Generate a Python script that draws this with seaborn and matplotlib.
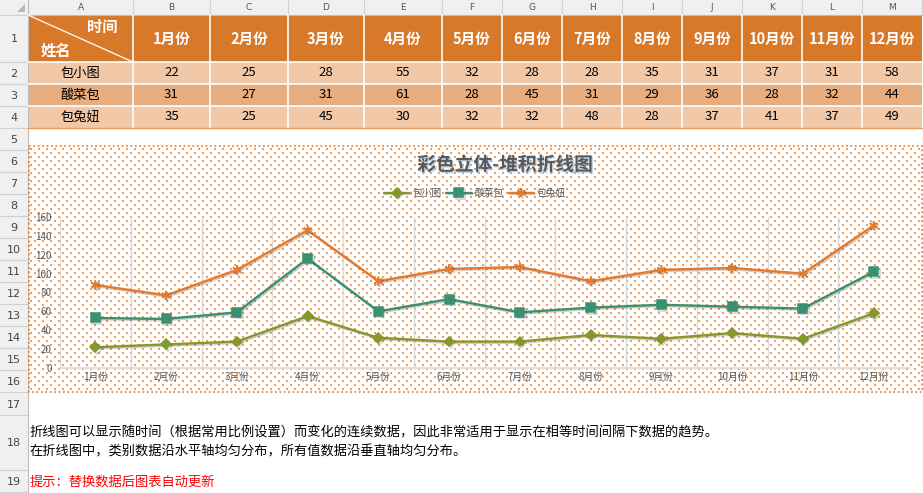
import numpy as np
import pandas as pd
import matplotlib.pyplot as plt
import matplotlib.patheffects as pe
from matplotlib.patches import Rectangle, Polygon
import seaborn as sns

# 数据
months = ['1月份', '2月份', '3月份', '4月份', '5月份', '6月份',
          '7月份', '8月份', '9月份', '10月份', '11月份', '12月份']
names = ['包小图', '酸菜包', '包兔妞']
bao_xiaotu = [22, 25, 28, 55, 32, 28, 28, 35, 31, 37, 31, 58]
suancaibao = [31, 27, 31, 61, 28, 45, 31, 29, 36, 28, 32, 44]
bao_tuniu = [35, 25, 45, 30, 32, 32, 48, 28, 37, 41, 37, 49]
col_letters = list('ABCDEFGHIJKLM')
y_ticks = [0, 20, 40, 60, 80, 100, 120, 140, 160]
chart_title = '彩色立体-堆积折线图'
note_lines = ['折线图可以显示随时间（根据常用比例设置）而变化的连续数据，因此非常适用于显示在相等时间间隔下数据的趋势。',
              '在折线图中，类别数据沿水平轴均匀分布，所有值数据沿垂直轴均匀分布。']
tip_text = '提示：替换数据后图表自动更新'

colors = {'包小图': '#86982B', '酸菜包': '#3A9172', '包兔妞': '#E6792B'}
markers = {'包小图': 'D', '酸菜包': 's', '包兔妞': 'o'}

sns.set_theme(style='white')
plt.rcParams['font.family'] = ['Noto Sans CJK SC', 'DejaVu Sans']

# 表格网格（像素）
col_edges = [28, 133, 210, 288, 364, 442, 502, 562, 622, 682, 742, 802, 862, 922]
row_edges = [15, 62, 84, 106, 128] + [128 + 22 * i for i in range(1, 13)] + [415, 470, 492]

fig = plt.figure(figsize=(9.23, 4.93), dpi=100)
sheet = fig.add_axes([0, 0, 1, 1])
sheet.set_xlim(0, 923)
sheet.set_ylim(493, 0)
sheet.axis('off')

# 列标题 / 行号
sheet.add_patch(Rectangle((0, 0), 923, 15, fc='#F0F0F0', ec='none'))
sheet.add_patch(Rectangle((0, 15), 28, 478, fc='#F0F0F0', ec='none'))
for x in col_edges:
    sheet.plot([x, x], [0, 15], color='#D0D0D0', lw=0.8)
for i, c in enumerate(col_letters):
    sheet.text((col_edges[i] + col_edges[i + 1]) / 2, 8, c, ha='center', va='center',
               fontsize=6.5, color='#555555', family='DejaVu Sans')
sheet.plot([0, 923], [15, 15], color='#BDBDBD', lw=0.8)
for y in row_edges:
    sheet.plot([0, 28], [y, y], color='#D0D0D0', lw=0.8)
for i in range(len(row_edges) - 1):
    sheet.text(14, (row_edges[i] + row_edges[i + 1]) / 2 + 1, str(i + 1), ha='center', va='center',
               fontsize=8, color='#444444', family='DejaVu Sans')
sheet.plot([28, 28], [0, 493], color='#BDBDBD', lw=0.8)
sheet.add_patch(Polygon([(17, 12), (25, 12), (25, 4)], fc='#B8B8B8', ec='none'))

# 数据表
fills = ['#D8792A', '#F1C9A9', '#E8AD7E', '#F1C9A9']
for r in range(4):
    sheet.add_patch(Rectangle((28, row_edges[r]), 894, row_edges[r + 1] - row_edges[r],
                              fc=fills[r], ec='none'))
for x in col_edges[1:-1]:
    sheet.plot([x, x], [15, 128], color='white', lw=1.2)
for y in row_edges[1:4]:
    sheet.plot([28, 922], [y, y], color='white', lw=1.2)
sheet.plot([28, 922], [128, 128], color='#E69A5C', lw=1)
sheet.plot([28, 133], [15, 62], color='white', lw=0.9)
sheet.text(102, 27, '时间', ha='center', va='center', fontsize=11, weight='bold', color='white')
sheet.text(56, 51, '姓名', ha='center', va='center', fontsize=11, weight='bold', color='white')
table = [bao_xiaotu, suancaibao, bao_tuniu]
for j, m in enumerate(months):
    cx = (col_edges[j + 1] + col_edges[j + 2]) / 2
    sheet.text(cx, 39, m, ha='center', va='center', fontsize=10.5, weight='bold', color='white')
    for r in range(3):
        sheet.text(cx, (row_edges[r + 1] + row_edges[r + 2]) / 2, str(table[r][j]),
                   ha='center', va='center', fontsize=9.5, color='black')
for r in range(3):
    sheet.text(80, (row_edges[r + 1] + row_edges[r + 2]) / 2, names[r],
               ha='center', va='center', fontsize=9.5, color='black')

# 图表区：白底 + 橙色点状图案（像素图，2x2 点对齐像素）
cw, ch = 894, 246
pattern = np.ones((ch, cw, 4))
dot = np.array([0.95, 0.62, 0.36, 1.0])
for k, yy in enumerate(range(2, ch - 3, 4)):
    off = 0 if k % 2 == 0 else 4
    for xx in range(2 + off, cw - 3, 8):
        pattern[yy:yy + 2, xx:xx + 2] = dot
sheet.imshow(pattern, extent=(28, 28 + cw, 146 + ch, 146), interpolation='nearest',
             aspect='auto', zorder=1)
sheet.add_patch(Rectangle((28.5, 146), 893, 246, fc='none', ec='#E07A2A', lw=1.2, ls=':', zorder=2))
sheet.set_xlim(0, 923)
sheet.set_ylim(493, 0)

sheet.text(505, 165, chart_title, ha='center', va='center', fontsize=13.5, weight='bold',
           color='#595959', zorder=3,
           path_effects=[pe.withSimplePatchShadow(offset=(1, -1), shadow_rgbFace='#9DC3E6', alpha=0.7)])

# 堆积折线
stack = np.cumsum(np.vstack([bao_xiaotu, suancaibao, bao_tuniu]), axis=0)
df = pd.DataFrame({
    'idx': np.tile(np.arange(len(months)), 3),
    'value': stack.ravel(),
    'name': np.repeat(names, len(months)),
})

ax = fig.add_axes([60 / 923, (493 - 368) / 493, 849 / 923, 151 / 493])
ax.patch.set_alpha(0)
sns.lineplot(data=df, x='idx', y='value', hue='name', style='name', hue_order=names,
             style_order=names, palette=colors, markers=markers, dashes=False,
             linewidth=1.7, legend=False, ax=ax)
sizes = {'包小图': 5, '酸菜包': 6.5, '包兔妞': 6.5}
for line, n in zip(ax.lines, names):
    if n == '包兔妞':
        line.set_marker((6, 2, 0))
    line.set_markersize(sizes[n])
    line.set_markerfacecolor(colors[n])
    line.set_markeredgecolor(colors[n])
    line.set_markeredgewidth(1.1)
    line.set_path_effects([pe.SimpleLineShadow(offset=(1, -1), alpha=0.2), pe.Normal()])

ax.set_xlim(-0.5, 11.5)
ax.set_ylim(0, 160)
ax.set_xticks(range(len(months)))
ax.set_xticklabels(months)
ax.set_xticks(np.arange(-0.5, 12, 1), minor=True)
ax.set_yticks(y_ticks)
ax.grid(which='minor', axis='x', color='#D9D9D9', lw=1)
ax.grid(which='major', visible=False)
ax.tick_params(which='both', length=0, labelsize=7, labelcolor='#595959')
ax.tick_params(axis='y', pad=6)
ax.tick_params(axis='x', pad=3)
for s in ['top', 'right', 'left']:
    ax.spines[s].set_visible(False)
ax.spines['bottom'].set_color('#D9D9D9')
ax.set_xlabel('')
ax.set_ylabel('')

fig.legend(handles=ax.lines[:3], labels=names, loc='center',
           bbox_to_anchor=(475 / 923, 1 - 193 / 493), ncol=3, frameon=False, fontsize=7,
           handlelength=2.6, handletextpad=0.3, columnspacing=0.5, labelcolor='#595959')

# 说明文字
sheet.text(30, 433, note_lines[0], ha='left', va='center', fontsize=9.5, color='black')
sheet.text(30, 452, note_lines[1], ha='left', va='center', fontsize=9.5, color='black')
sheet.text(30, 482, tip_text, ha='left', va='center', fontsize=9.5, color='#FF0000')

fig.savefig('out.png', dpi=100)
